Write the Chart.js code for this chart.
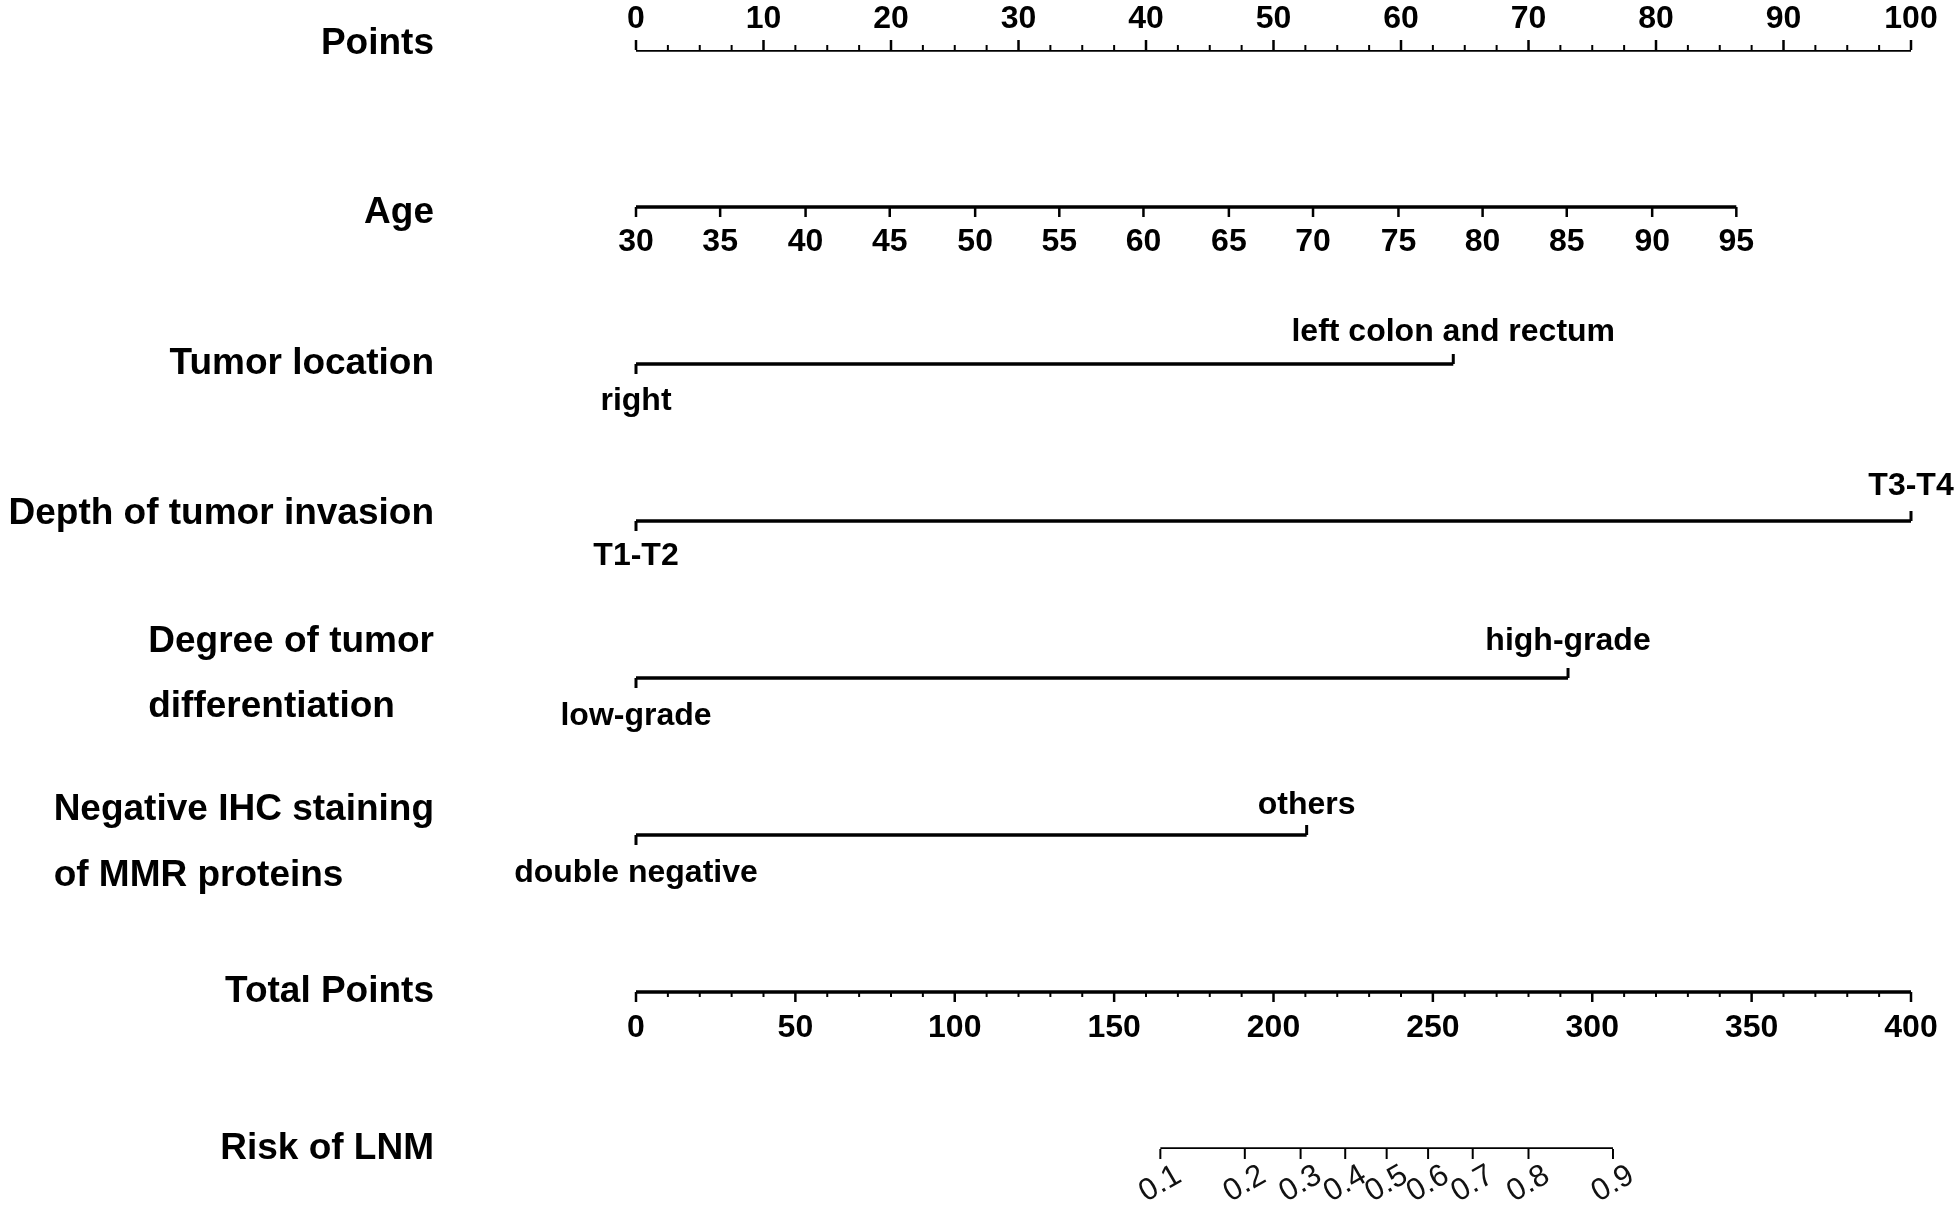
<!DOCTYPE html>
<html>
<head>
<meta charset="utf-8">
<script src="https://cdn.jsdelivr.net/npm/chart.js@4"></script>
<style>
  html, body { margin: 0; padding: 0; background: #fff; }
  canvas { display: block; }
</style>
</head>
<body>
<canvas id="nomo" width="1956" height="1211"></canvas>
<script>
// row names (left side), one per nomogram row
const rowNames = [
  ['Points'],
  ['Age'],
  ['Tumor location'],
  ['Depth of tumor invasion'],
  ['Degree of tumor', 'differentiation'],
  ['Negative IHC staining', 'of MMR proteins'],
  ['Total Points'],
  ['Risk of LNM']
];

// points scale
const pointTicks = [0, 10, 20, 30, 40, 50, 60, 70, 80, 90, 100];
const pointMinorTicks = [2.5, 5, 7.5, 12.5, 15, 17.5, 22.5, 25, 27.5, 32.5, 35, 37.5, 42.5, 45, 47.5,
  52.5, 55, 57.5, 62.5, 65, 67.5, 72.5, 75, 77.5, 82.5, 85, 87.5, 92.5, 95, 97.5];

// age: tick labels and where they sit on the points scale
const ageTicks = [30, 35, 40, 45, 50, 55, 60, 65, 70, 75, 80, 85, 90, 95];
const agePoints = [0, 6.6, 13.3, 19.9, 26.6, 33.2, 39.8, 46.5, 53.1, 59.8, 66.4, 73.0, 79.7, 86.3];

// categorical predictors: [low label, high label] and their points
const tumorLocLabels = ['right', 'left colon and rectum'];
const tumorLocPoints = [0, 64.1];
const depthLabels = ['T1-T2', 'T3-T4'];
const depthPoints = [0, 100];
const gradeLabels = ['low-grade', 'high-grade'];
const gradePoints = [0, 73.1];
const ihcLabels = ['double negative', 'others'];
const ihcPoints = [0, 52.6];

// total points
const totalTicks = [0, 50, 100, 150, 200, 250, 300, 350, 400];
const totalMinorTicks = [10, 20, 30, 40, 60, 70, 80, 90, 110, 120, 130, 140, 160, 170, 180, 190,
  210, 220, 230, 240, 260, 270, 280, 290, 310, 320, 330, 340, 360, 370, 380, 390];

// risk of LNM and the total points it corresponds to
const riskTicks = ['0.1', '0.2', '0.3', '0.4', '0.5', '0.6', '0.7', '0.8', '0.9'];
const riskTotals = [164.5, 191, 208.5, 222.5, 235.5, 248.5, 262.5, 280, 306.5];

const BOLD = 'bold 32px "Liberation Sans", Arial, sans-serif';
const NAME_FONT = 'bold 37px "Liberation Sans", Arial, sans-serif';
const RISK_FONT = '31px "Liberation Sans", Arial, sans-serif';

function seg(x0, x1, row) { return [{ x: x0, y: row }, { x: x1, y: row }]; }

const lineStyle = { borderColor: '#000', borderWidth: 3.5, pointRadius: 0, borderCapStyle: 'butt', fill: false };

const datasets = [
  Object.assign({ data: seg(0, 100, 0), xAxisID: 'x' }, lineStyle),
  Object.assign({ data: seg(agePoints[0], agePoints[agePoints.length - 1], 1), xAxisID: 'x' }, lineStyle),
  Object.assign({ data: seg(tumorLocPoints[0], tumorLocPoints[1], 2), xAxisID: 'x' }, lineStyle),
  Object.assign({ data: seg(depthPoints[0], depthPoints[1], 3), xAxisID: 'x' }, lineStyle),
  Object.assign({ data: seg(gradePoints[0], gradePoints[1], 4), xAxisID: 'x' }, lineStyle),
  Object.assign({ data: seg(ihcPoints[0], ihcPoints[1], 5), xAxisID: 'x' }, lineStyle),
  Object.assign({ data: seg(0, 400, 6), xAxisID: 'xTotal' }, lineStyle),
  Object.assign({ data: seg(riskTotals[0], riskTotals[riskTotals.length - 1], 7), xAxisID: 'xTotal' }, lineStyle)
];

const nomogramPlugin = {
  id: 'nomogram',
  afterDatasetsDraw(chart) {
    const ctx = chart.ctx;
    const xs = chart.scales.x, xt = chart.scales.xTotal, ys = chart.scales.y;
    const rowY = i => ys.getPixelForValue(i);

    function tick(x, y, len, w) {
      ctx.beginPath();
      ctx.lineWidth = w || 2.5;
      ctx.moveTo(x, y);
      ctx.lineTo(x, y + len);
      ctx.stroke();
    }
    function text(str, x, y, font, align) {
      ctx.font = font;
      ctx.textAlign = align || 'center';
      ctx.textBaseline = 'middle';
      ctx.fillText(str, x, y);
    }

    ctx.save();
    ctx.strokeStyle = '#000';
    ctx.fillStyle = '#000';

    // row names
    const nameRight = 434;
    const nameOffsets = [[-6], [6], [0], [-7], [-36, 29], [-25, 41], [0], [0]];
    rowNames.forEach((lines, i) => {
      const y = rowY(i);
      if (lines.length === 1) {
        text(lines[0], nameRight, y + nameOffsets[i][0], NAME_FONT, 'right');
      } else {
        ctx.font = NAME_FONT;
        const w = Math.max(...lines.map(l => ctx.measureText(l).width));
        lines.forEach((l, k) => text(l, nameRight - w, y + nameOffsets[i][k], NAME_FONT, 'left'));
      }
    });

    // Points
    let y = rowY(0);
    pointTicks.forEach(v => {
      const x = xs.getPixelForValue(v);
      tick(x, y, -10, 2.5);
      text(String(v), x, y - 31, BOLD);
    });
    pointMinorTicks.forEach(v => tick(xs.getPixelForValue(v), y, -5, 2));

    // Age
    y = rowY(1);
    ageTicks.forEach((a, k) => {
      const x = xs.getPixelForValue(agePoints[k]);
      tick(x, y, 10, 2.5);
      text(String(a), x, y + 35, BOLD);
    });

    // categorical rows
    const cats = [
      [2, tumorLocLabels, tumorLocPoints, 37, -32],
      [3, depthLabels, depthPoints, 35, -35],
      [4, gradeLabels, gradePoints, 38, -37],
      [5, ihcLabels, ihcPoints, 38, -30]
    ];
    cats.forEach(([row, labels, pts, below, above]) => {
      const yy = rowY(row);
      const x0 = xs.getPixelForValue(pts[0]);
      const x1 = xs.getPixelForValue(pts[1]);
      tick(x0, yy, 10, 3);
      tick(x1, yy, -10, 3);
      text(labels[0], x0, yy + below, BOLD);
      text(labels[1], x1, yy + above, BOLD);
    });

    // Total Points
    y = rowY(6);
    totalTicks.forEach(v => {
      const x = xt.getPixelForValue(v);
      tick(x, y, 10, 2.5);
      text(String(v), x, y + 36, BOLD);
    });
    totalMinorTicks.forEach(v => tick(xt.getPixelForValue(v), y, 5, 2));

    // Risk of LNM
    y = rowY(7);
    riskTicks.forEach((r, k) => {
      const x = xt.getPixelForValue(riskTotals[k]);
      tick(x, y, 10, 2);
      ctx.save();
      ctx.translate(x, y + 35);
      ctx.rotate(-Math.PI / 6);
      ctx.fillStyle = '#111';
      text(r, 0, 0, RISK_FONT);
      ctx.restore();
    });

    ctx.restore();
  }
};

new Chart(document.getElementById('nomo'), {
  type: 'line',
  data: { datasets: datasets },
  options: {
    responsive: false,
    animation: false,
    devicePixelRatio: 1,
    layout: { padding: { left: 636, right: 45, top: 50, bottom: 62 } },
    plugins: { legend: { display: false }, tooltip: { enabled: false } },
    scales: {
      x: { type: 'linear', min: 0, max: 100, display: false },
      xTotal: { type: 'linear', min: 0, max: 400, display: false },
      y: { type: 'linear', min: 0, max: 7, reverse: true, display: false }
    }
  },
  plugins: [nomogramPlugin]
});
</script>
</body>
</html>
